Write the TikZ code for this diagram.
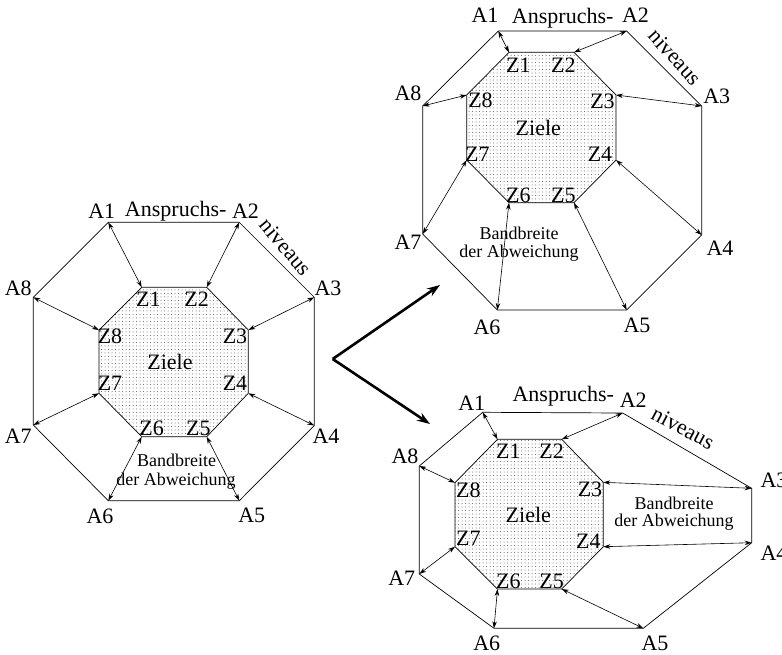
\documentclass[tikz,border=0pt]{standalone}
\usepackage{fontspec}
\setmainfont{Liberation Serif}
\usetikzlibrary{arrows.meta,patterns.meta}
\tikzset{
 lbl/.style={font=\fontsize{22}{24}\selectfont, inner sep=0pt},
 smalllbl/.style={font=\fontsize{18}{20}\selectfont, inner sep=0pt},
 outerline/.style={draw=black, line width=0.7pt, line join=miter},
 innerfill/.style={draw=black, line width=0.7pt, pattern={Dots[distance=3.5pt,radius=0.5pt]}, pattern color=black!65},
 dbl/.style={line width=0.6pt, {Stealth[length=7pt,width=4.5pt]}-{Stealth[length=7pt,width=4.5pt]}},
 bigarrow/.style={line width=2.6pt, -{Stealth[length=13pt,width=9pt]}},
}
\begin{document}
\begin{tikzpicture}[x=1pt,y=-1pt]
\useasboundingbox (0,0) rectangle (782,654);
% ================= left diagram =================
\coordinate (LA1) at (108.3,222.3);
\coordinate (LA2) at (239.3,222.3);
\coordinate (LA3) at (314.3,297.3);
\coordinate (LA4) at (314.3,425.5);
\coordinate (LA5) at (239.3,500.7);
\coordinate (LA6) at (108.3,500.7);
\coordinate (LA7) at (33.3,425);
\coordinate (LA8) at (33.3,297.3);
\coordinate (LZ1) at (141.7,287.3);
\coordinate (LZ2) at (206.7,287.3);
\coordinate (LZ3) at (248.3,330);
\coordinate (LZ4) at (248.3,393.3);
\coordinate (LZ5) at (206.7,436.7);
\coordinate (LZ6) at (141.7,436.7);
\coordinate (LZ7) at (99,393.3);
\coordinate (LZ8) at (99,330);
\path[outerline] (LA1) -- (LA2) -- (LA3) -- (LA4) -- (LA5) -- (LA6) -- (LA7) -- (LA8) -- cycle;
\path[innerfill] (LZ1) -- (LZ2) -- (LZ3) -- (LZ4) -- (LZ5) -- (LZ6) -- (LZ7) -- (LZ8) -- cycle;
\foreach \i in {1,...,8} { \draw[dbl] (LA\i) -- (LZ\i); }
\node[lbl] (lA1) at (101.7,211.7) {A1};
\node[lbl] (lAn) at (175.7,211.7) {Anspruchs-};
\node[lbl] (lA2) at (245.5,211.7) {A2};
\node[lbl,rotate=-50] (lniv) at (286,247) {niveaus};
\node[lbl] (lA3) at (328,288.3) {A3};
\node[lbl] (lA8) at (18.3,288.3) {A8};
\node[lbl] (lA7) at (18.3,436.7) {A7};
\node[lbl] (lA4) at (326,436.7) {A4};
\node[lbl] (lA6) at (100,516.7) {A6};
\node[lbl] (lA5) at (251.7,515) {A5};
\node[lbl] (lZ1) at (148.3,299) {Z1};
\node[lbl] (lZ2) at (196.7,299) {Z2};
\node[lbl] (lZ8) at (110,336.7) {Z8};
\node[lbl] (lZ3) at (235,336.7) {Z3};
\node[lbl] (lZiele) at (170,361.7) {Ziele};
\node[lbl] (lZ7) at (110,383.3) {Z7};
\node[lbl] (lZ4) at (235,383.3) {Z4};
\node[lbl] (lZ6) at (151.7,428.3) {Z6};
\node[lbl] (lZ5) at (198.3,428.3) {Z5};
\node[smalllbl] (lBand) at (176.7,460.7) {Bandbreite};
\node[smalllbl] (lAbw) at (176,480.7) {der Abweichung};
% ================= middle arrows =================
\coordinate (M0) at (332.7,359);
\coordinate (M1) at (440,285);
\coordinate (M2) at (430,424);
\draw[bigarrow, line join=miter] (M0) -- (M1);
\draw[bigarrow, line join=miter] (M0) -- (M2);
% ================= top right diagram =================
\coordinate (TA1) at (498.3,31);
\coordinate (TA2) at (626.7,31);
\coordinate (TA3) at (701.7,106);
\coordinate (TA4) at (701.7,235);
\coordinate (TA5) at (626.7,310);
\coordinate (TA6) at (497.3,310);
\coordinate (TA7) at (422.7,234);
\coordinate (TA8) at (422.7,106);
\coordinate (TZ1) at (509,52.3);
\coordinate (TZ2) at (574,52.3);
\coordinate (TZ3) at (616,95);
\coordinate (TZ4) at (616,160);
\coordinate (TZ5) at (574,202.7);
\coordinate (TZ6) at (509,202.7);
\coordinate (TZ7) at (466.7,160);
\coordinate (TZ8) at (466.7,95);
\path[outerline] (TA1) -- (TA2) -- (TA3) -- (TA4) -- (TA5) -- (TA6) -- (TA7) -- (TA8) -- cycle;
\path[innerfill] (TZ1) -- (TZ2) -- (TZ3) -- (TZ4) -- (TZ5) -- (TZ6) -- (TZ7) -- (TZ8) -- cycle;
\foreach \i in {1,...,8} { \draw[dbl] (TA\i) -- (TZ\i); }
\node[lbl] (tA1) at (485,15) {A1};
\node[lbl] (tAn) at (562.7,18.3) {Anspruchs-};
\node[lbl] (tA2) at (635.5,15) {A2};
\node[lbl,rotate=-48] (tniv) at (675,57) {niveaus};
\node[lbl] (tA3) at (716.7,96.7) {A3};
\node[lbl] (tA8) at (408,93) {A8};
\node[lbl] (tA7) at (408,242) {A7};
\node[lbl] (tA4) at (720,248) {A4};
\node[lbl] (tA6) at (487,327) {A6};
\node[lbl] (tA5) at (637,325) {A5};
\node[lbl] (tZ1) at (518.3,65) {Z1};
\node[lbl] (tZ2) at (563.3,65) {Z2};
\node[lbl] (tZ8) at (480.5,100) {Z8};
\node[lbl] (tZ3) at (602.5,101) {Z3};
\node[lbl] (tZiele) at (538.3,128.3) {Ziele};
\node[lbl] (tZ7) at (477.3,154) {Z7};
\node[lbl] (tZ4) at (600,154) {Z4};
\node[lbl] (tZ6) at (518.3,195) {Z6};
\node[lbl] (tZ5) at (563.3,195) {Z5};
\node[smalllbl] (tBand) at (519,233.3) {Bandbreite};
\node[smalllbl] (tAbw) at (519,253.3) {der Abweichung};
% ================= bottom right diagram =================
\coordinate (BA1) at (482.7,412.3);
\coordinate (BA2) at (622.7,413);
\coordinate (BA3) at (751.7,488.3);
\coordinate (BA4) at (751.7,542.7);
\coordinate (BA5) at (643.3,628.3);
\coordinate (BA6) at (494,628.3);
\coordinate (BA7) at (419.3,574);
\coordinate (BA8) at (419.3,466);
\coordinate (BZ1) at (497.5,439.3);
\coordinate (BZ2) at (561.7,439.3);
\coordinate (BZ3) at (603.3,482.3);
\coordinate (BZ4) at (603.3,546.7);
\coordinate (BZ5) at (561.7,589);
\coordinate (BZ6) at (497.5,589);
\coordinate (BZ7) at (455,546.7);
\coordinate (BZ8) at (455,482.7);
\path[outerline] (BA1) -- (BA2) -- (BA3) -- (BA4) -- (BA5) -- (BA6) -- (BA7) -- (BA8) -- cycle;
\path[innerfill] (BZ1) -- (BZ2) -- (BZ3) -- (BZ4) -- (BZ5) -- (BZ6) -- (BZ7) -- (BZ8) -- cycle;
\foreach \i in {1,...,8} { \draw[dbl] (BA\i) -- (BZ\i); }
\node[lbl] (bA1) at (471.7,403.3) {A1};
\node[lbl] (bAn) at (563.3,396.7) {Anspruchs-};
\node[lbl] (bA2) at (633.3,400) {A2};
\node[lbl,rotate=-28] (bniv) at (683,428) {niveaus};
\node[lbl] (bA3) at (774,480) {A3};
\node[lbl] (bA4) at (774,553.3) {A4};
\node[lbl] (bA5) at (655,643.3) {A5};
\node[lbl] (bA6) at (486.7,643.3) {A6};
\node[lbl] (bA7) at (401.7,578.3) {A7};
\node[lbl] (bA8) at (405,456.7) {A8};
\node[lbl] (bZ1) at (508.3,451.7) {Z1};
\node[lbl] (bZ2) at (551.7,451.7) {Z2};
\node[lbl] (bZ8) at (468.3,490) {Z8};
\node[lbl] (bZ3) at (590,489.3) {Z3};
\node[lbl] (bZiele) at (528.3,515) {Ziele};
\node[lbl] (bZ7) at (468.3,538.3) {Z7};
\node[lbl] (bZ4) at (588.3,541.7) {Z4};
\node[lbl] (bZ6) at (508.3,581.7) {Z6};
\node[lbl] (bZ5) at (551.7,581.7) {Z5};
\node[smalllbl] (bBand) at (674,503.3) {Bandbreite};
\node[smalllbl] (bAbw) at (674,521.7) {der Abweichung};
\end{tikzpicture}
\end{document}
